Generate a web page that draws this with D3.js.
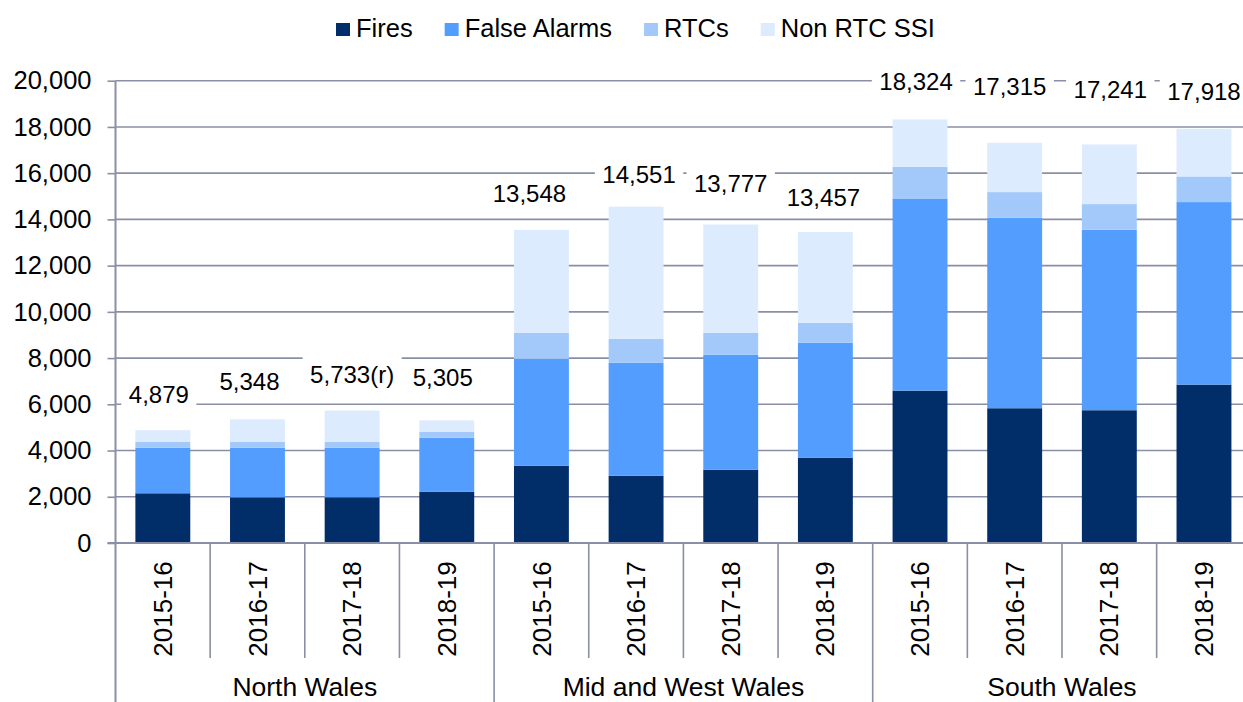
<!DOCTYPE html>
<html>
<head>
<meta charset="utf-8">
<script src="https://cdn.jsdelivr.net/npm/d3@7"></script>
<style>
  html, body { margin: 0; padding: 0; background: #ffffff; }
  svg { display: block; }
  text { font-family: "Liberation Sans", Arial, Helvetica, sans-serif; fill: #000; }
</style>
</head>
<body>
<svg id="chart" width="1243" height="702"></svg>
<script>
// ---------------- data ----------------
const regions = ["North Wales", "Mid and West Wales", "South Wales"];
const years = ["2015-16", "2016-17", "2017-18", "2018-19"];
const seriesNames = ["Fires", "False Alarms", "RTCs", "Non RTC SSI"];

// values per bar (North Wales x4, Mid and West Wales x4, South Wales x4)
const fires       = [2151, 1978, 1980, 2222, 3346, 2913, 3173, 3693, 6593, 5830, 5744, 6853];
const falseAlarms = [1975, 2148, 2146, 2338, 4619, 4879, 4966, 4965, 8312, 8239, 7806, 7896];
const rtcs        = [ 246,  246,  246,  245, 1126, 1039,  952,  866, 1372, 1112, 1112, 1108];
const nonRtcSsi   = [ 507,  976, 1361,  500, 4457, 5720, 4686, 3933, 2047, 2134, 2579, 2061];
const totalLabels = ["4,879", "5,348", "5,733(r)", "5,305", "13,548", "14,551", "13,777", "13,457",
                     "18,324", "17,315", "17,241", "17,918"];
const yTicks = [0, 2000, 4000, 6000, 8000, 10000, 12000, 14000, 16000, 18000, 20000];

// ---------------- layout / style ----------------
const colors = ["#012d69", "#539dfe", "#a3c9fb", "#dcebfd"];
const gridColor = "#8a8fa5";
const labelLift = [27, 29, 27, 34, 28, 24, 33, 26, 29, 48, 46, 29];  // px above bar top
const labelNudge = [-4, -8, 0, -4, -12, 3, 0, -2, -4, -5, 1, 0];     // px horizontal nudge
const plot = { left: 115.5, right: 1251.3, top: 80.7, bottom: 543 };
const labelFont = 24;
const axisFont = 25.5;

const svg = d3.select("#chart");

// table built from the arrays
const rows = fires.map((f, i) => ({
  key: i,
  region: regions[Math.floor(i / years.length)],
  year: years[i % years.length],
  "Fires": f,
  "False Alarms": falseAlarms[i],
  "RTCs": rtcs[i],
  "Non RTC SSI": nonRtcSsi[i],
  label: totalLabels[i]
}));

const x = d3.scaleBand()
  .domain(rows.map(d => d.key))
  .range([plot.left, plot.right])
  .paddingInner(0.42)
  .paddingOuter(0.21);

const y = d3.scaleLinear()
  .domain([0, 20000])
  .range([plot.bottom, plot.top]);

// gridlines
svg.append("g")
  .selectAll("line")
  .data(yTicks.filter(t => t > 0))
  .join("line")
  .attr("x1", plot.left).attr("x2", plot.right)
  .attr("y1", d => y(d)).attr("y2", d => y(d))
  .attr("stroke", gridColor).attr("stroke-width", 1.6);

// stacked bars
const stacked = d3.stack().keys(seriesNames)(rows);

svg.append("g")
  .selectAll("g")
  .data(stacked)
  .join("g")
  .attr("fill", (d, i) => colors[i])
  .selectAll("rect")
  .data(d => d)
  .join("rect")
  .attr("x", d => x(d.data.key))
  .attr("width", x.bandwidth())
  .attr("y", d => y(d[1]))
  .attr("height", d => y(d[0]) - y(d[1]));

// total labels with white boxes
const totalOf = d => d["Fires"] + d["False Alarms"] + d["RTCs"] + d["Non RTC SSI"];
const labG = svg.append("g").selectAll("g")
  .data(rows)
  .join("g")
  .attr("transform", (d, i) =>
    `translate(${x(d.key) + x.bandwidth() / 2 + labelNudge[i]},${y(totalOf(d)) - labelLift[i]})`);
const labText = labG.append("text")
  .attr("text-anchor", "middle")
  .style("font-size", labelFont + "px")
  .text(d => d.label);
labText.each(function () {
  const w = this.getComputedTextLength();
  d3.select(this.parentNode).insert("rect", "text")
    .attr("x", -w / 2 - 7.5)
    .attr("width", w + 15)
    .attr("y", -labelFont * 0.905 - 5)
    .attr("height", labelFont * (0.905 + 0.212) + 10)
    .attr("fill", "#ffffff");
});

// y axis
const yAxis = d3.axisLeft(y)
  .tickValues(yTicks)
  .tickFormat(d3.format(","))
  .tickSize(8)
  .tickPadding(16);
const yg = svg.append("g")
  .attr("transform", `translate(${plot.left},0)`)
  .call(yAxis);
yg.select(".domain").remove();
yg.selectAll(".tick line").attr("stroke", gridColor).attr("stroke-width", 1.6);
yg.selectAll(".tick text")
  .style("font-size", axisFont + "px")
  .style("font-family", '"Liberation Sans", Arial, sans-serif')
  .attr("fill", "#000");
svg.append("line")
  .attr("x1", plot.left).attr("x2", plot.left)
  .attr("y1", plot.top).attr("y2", 702)
  .attr("stroke", gridColor).attr("stroke-width", 2);

// x axis (multi-level category axis)
const xg = svg.append("g");
xg.append("line")
  .attr("x1", plot.left - 8).attr("x2", plot.right)
  .attr("y1", plot.bottom).attr("y2", plot.bottom)
  .attr("stroke", gridColor).attr("stroke-width", 2);

const step = x.step();
xg.selectAll("line.div")
  .data(d3.range(1, rows.length + 1))
  .join("line")
  .attr("class", "div")
  .attr("x1", i => plot.left + i * step).attr("x2", i => plot.left + i * step)
  .attr("y1", plot.bottom)
  .attr("y2", i => (i % years.length === 0) ? 702 : 658)
  .attr("stroke", gridColor).attr("stroke-width", 1.6);

xg.selectAll("text.year")
  .data(rows)
  .join("text")
  .attr("class", "year")
  .attr("transform", d => `translate(${x(d.key) + x.bandwidth() / 2},609) rotate(-90)`)
  .attr("text-anchor", "middle")
  .attr("dy", "0.35em")
  .style("font-size", "26px")
  .text(d => d.year);

xg.selectAll("text.region")
  .data(regions)
  .join("text")
  .attr("class", "region")
  .attr("x", (d, i) => plot.left + (i * years.length + years.length / 2) * step)
  .attr("y", 695.5)
  .attr("text-anchor", "middle")
  .style("font-size", "26.5px")
  .text(d => d);

// legend
const legend = svg.append("g");
let lx = 336;
seriesNames.forEach((name, i) => {
  const g = legend.append("g").attr("transform", `translate(${lx},0)`);
  g.append("rect").attr("x", 0).attr("y", 23).attr("width", 14).attr("height", 13).attr("fill", colors[i]);
  const t = g.append("text").attr("x", 20).attr("y", 36.5).style("font-size", "25.5px").text(name);
  lx += 20 + t.node().getComputedTextLength() + 32;
});
</script>
</body>
</html>
